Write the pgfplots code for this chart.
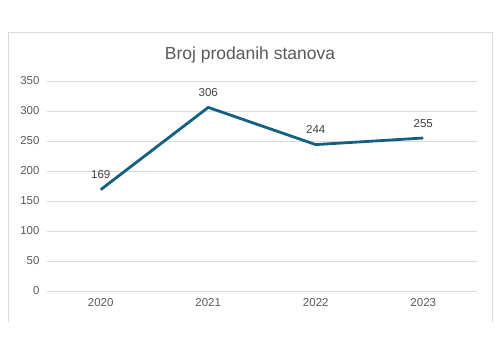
\documentclass[border=0pt]{standalone}
\usepackage{pgfplots}
\pgfplotsset{compat=1.18}
\usepackage{fontspec}
\setmainfont{Liberation Sans}
\definecolor{linec}{HTML}{156082}
\definecolor{gridc}{HTML}{D9D9D9}
\definecolor{tickc}{HTML}{595959}
\definecolor{labc}{HTML}{404040}
\begin{document}
\begin{tikzpicture}
\useasboundingbox (0pt,0pt) rectangle (500pt,360pt);
\draw[gridc,line width=1pt] (8pt,38pt) -- (8pt,328pt) -- (492pt,328pt) -- (492pt,38pt);
\node[tickc,font=\fontsize{17.5}{20}\selectfont] at (250pt,305pt) {Broj prodanih stanova};
\coordinate (A) at (47pt,69pt);
\begin{axis}[
  at={(A)}, anchor=south west,
  scale only axis, width=430pt, height=210pt,
  xmin=-0.5, xmax=3.5, ymin=0, ymax=350,
  xtick={0,1,2,3}, xticklabels={2020,2021,2022,2023},
  ytick={0,50,...,350},
  axis line style={draw=none},
  major tick length=0pt,
  ymajorgrids, grid style={gridc,line width=1pt},
  tick label style={tickc,font=\fontsize{11.5}{13}\selectfont},
  /pgf/number format/assume math mode=true,
  xticklabel style={yshift=-4pt},
  yticklabel style={xshift=-4pt},
  clip=false,
  nodes near coords,
  every node near coord/.append style={labc,font=\fontsize{11.5}{13}\selectfont,yshift=6pt},
]
\addplot[linec,line width=2.8pt,mark=none,line join=round] coordinates {(0,169) (1,306) (2,244) (3,255)};
\end{axis}
\end{tikzpicture}
\end{document}
